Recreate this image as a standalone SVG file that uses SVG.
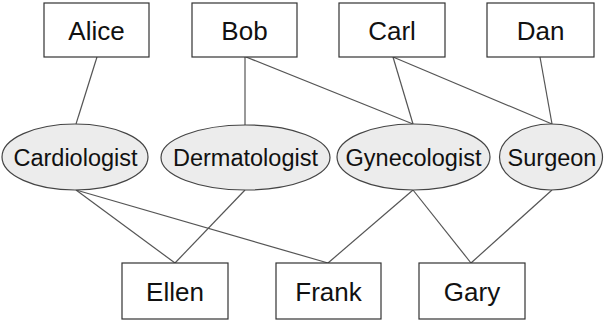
<svg xmlns="http://www.w3.org/2000/svg" width="604" height="327" viewBox="0 0 604 327">
<style>
.box{fill:#fff;stroke:#333;stroke-width:1.2}
.ell{fill:#ececec;stroke:#444;stroke-width:1.2}
.t{font-family:"Liberation Sans",Arial,sans-serif;font-size:26px;fill:#111;text-anchor:middle}
.te{font-family:"Liberation Sans",Arial,sans-serif;font-size:23.5px;fill:#111;text-anchor:middle}
.c line{stroke:#555;stroke-width:1.2}
</style>
<rect width="604" height="327" fill="#fff"/>
<g class="c" id="connectors">
<line x1="97" y1="57" x2="76" y2="124"/>
<line x1="245" y1="57" x2="245" y2="125"/>
<line x1="246" y1="57" x2="413" y2="124"/>
<line x1="393" y1="57" x2="413" y2="124"/>
<line x1="393" y1="57" x2="552" y2="124"/>
<line x1="540" y1="57" x2="552" y2="124"/>
<line x1="76" y1="190" x2="175" y2="263"/>
<line x1="76" y1="190" x2="328" y2="263"/>
<line x1="245" y1="190" x2="175" y2="263"/>
<line x1="413" y1="190" x2="328" y2="263"/>
<line x1="413" y1="190" x2="471" y2="263"/>
<line x1="552" y1="190" x2="471" y2="263"/>
</g>
<g id="alice"><rect class="box" x="44" y="3" width="105" height="54"/><text class="t" x="96.5" y="39.5">Alice</text></g>
<g id="bob"><rect class="box" x="192" y="3" width="105" height="54"/><text class="t" x="244.5" y="39.5">Bob</text></g>
<g id="carl"><rect class="box" x="339" y="3" width="106" height="54"/><text class="t" x="392" y="39.5">Carl</text></g>
<g id="dan"><rect class="box" x="487" y="3" width="107" height="54"/><text class="t" x="540.5" y="39.5">Dan</text></g>
<g id="cardiologist"><ellipse class="ell" cx="75" cy="157" rx="73" ry="33"/><text class="te" x="75.5" y="165.5">Cardiologist</text></g>
<g id="dermatologist"><ellipse class="ell" cx="245.5" cy="157.5" rx="84.5" ry="32.5"/><text class="te" x="245.5" y="165.5">Dermatologist</text></g>
<g id="gynecologist"><ellipse class="ell" cx="413.5" cy="157" rx="76.5" ry="33"/><text class="te" x="413.5" y="165.5">Gynecologist</text></g>
<g id="surgeon"><ellipse class="ell" cx="551" cy="157" rx="51.5" ry="33"/><text class="te" x="552" y="165.5">Surgeon</text></g>
<g id="ellen"><rect class="box" x="122" y="263" width="106" height="56"/><text class="t" x="175" y="300.5">Ellen</text></g>
<g id="frank"><rect class="box" x="276" y="263" width="105" height="56"/><text class="t" x="328.5" y="300.5">Frank</text></g>
<g id="gary"><rect class="box" x="419" y="263" width="106" height="56"/><text class="t" x="472" y="300.5">Gary</text></g>
</svg>
